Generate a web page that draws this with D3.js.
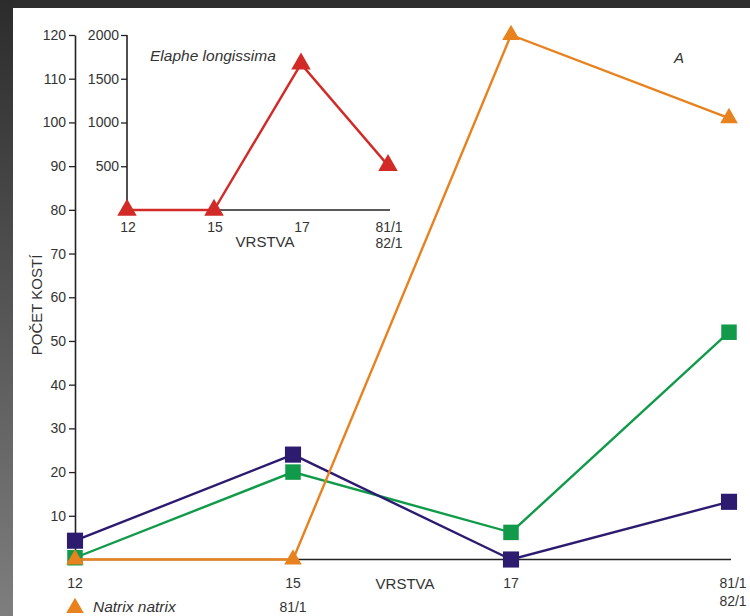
<!DOCTYPE html>
<html>
<head>
<meta charset="utf-8">
<script src="https://cdn.jsdelivr.net/npm/d3@7"></script>
<style>
  html, body { margin: 0; padding: 0; background: #2e2e2e; }
  svg { display: block; font-family: "Liberation Sans", Arial, sans-serif; }
</style>
</head>
<body>
<script>
// ---- data ----
const layers = ["12", "15", "17", "81/1"];
const layerSub = ["", "", "", "82/1"];
const natrixNatrix = [0, 0, 120, 101];
const seriesGreen = [0.4, 20, 6.2, 52];
const seriesNavy = [4.3, 24, 0, 13.2];
const elapheLongissima = [0, 0, 1670, 510];
const mainTicks = [10, 20, 30, 40, 50, 60, 70, 80, 90, 100, 110, 120];
const insetTicks = [500, 1000, 1500, 2000];

const W = 750, H = 616;
const svg = d3.select("body").append("svg").attr("width", W).attr("height", H);

// background frame
const defs = svg.append("defs");
const grad = defs.append("linearGradient").attr("id", "lg").attr("x1", 0).attr("y1", 0).attr("x2", 0).attr("y2", 1);
grad.append("stop").attr("offset", "0%").attr("stop-color", "#2c2c2c");
grad.append("stop").attr("offset", "100%").attr("stop-color", "#7e7e7e");
svg.append("rect").attr("width", W).attr("height", H).attr("fill", "#2e2e2e");
svg.append("rect").attr("x", 0).attr("y", 0).attr("width", 13).attr("height", H).attr("fill", "url(#lg)");
svg.append("rect").attr("x", 13).attr("y", 8).attr("width", W - 13).attr("height", H - 8).attr("fill", "#ffffff");

// ---- main chart ----
const x = d3.scalePoint().domain(layers).range([75, 729]);
const y = d3.scaleLinear().domain([0, 120]).range([559.5, 35]);

const yAxis = svg.append("g").attr("transform", "translate(75,0)")
  .call(d3.axisLeft(y).tickValues(mainTicks).tickSize(6).tickSizeOuter(0).tickPadding(3));
yAxis.select(".domain").attr("stroke", "#222").attr("stroke-width", 1.6);
yAxis.selectAll(".tick line").attr("stroke", "#222").attr("stroke-width", 1.3);
yAxis.selectAll("text").attr("font-size", 14).attr("fill", "#333");

// x axis line
svg.append("line").attr("x1", x(layers[0])).attr("x2", 731).attr("y1", y(0)).attr("y2", y(0))
  .attr("stroke", "#222").attr("stroke-width", 1.6);

// x tick labels
svg.append("g").selectAll("text").data(layers).join("text")
  .attr("x", d => d === "81/1" ? 733 : x(d)).attr("y", 588)
  .attr("text-anchor", "middle").attr("font-size", 14).attr("fill", "#333").text(d => d);
svg.append("g").selectAll("text").data(layerSub.filter(d => d)).join("text")
  .attr("x", 733).attr("y", 606)
  .attr("text-anchor", "middle").attr("font-size", 14).attr("fill", "#333").text(d => d);
svg.append("text").attr("x", 405).attr("y", 589).attr("text-anchor", "middle")
  .attr("font-size", 15).attr("fill", "#333").text("VRSTVA");

svg.append("text").attr("transform", "translate(42,305) rotate(-90)").attr("text-anchor", "middle")
  .attr("font-size", 15).attr("fill", "#333").text("POČET KOSTÍ");

svg.append("text").attr("x", 679).attr("y", 63).attr("text-anchor", "middle")
  .attr("font-size", 15).attr("font-style", "italic").attr("fill", "#333").text("A");

const line = d3.line().x((d, i) => x(layers[i])).y(d => y(d));

function drawSeries(vals, color, symbol, size) {
  svg.append("path").datum(vals).attr("d", line).attr("fill", "none")
    .attr("stroke", color).attr("stroke-width", 2.4);
  svg.append("g").selectAll("path").data(vals).join("path")
    .attr("transform", (d, i) => `translate(${x(layers[i])},${y(d)})`)
    .attr("d", d3.symbol().type(symbol).size(size)).attr("fill", color);
}
drawSeries(seriesGreen, "#119a4a", d3.symbolSquare, 240);
drawSeries(seriesNavy, "#2c1b6f", d3.symbolSquare, 260);
drawSeries(natrixNatrix, "#e8821f", d3.symbolTriangle, 135);

// legend (bottom, cut)
svg.append("path").attr("transform", `translate(${x(layers[0])},608)`)
  .attr("d", d3.symbol().type(d3.symbolTriangle).size(135)).attr("fill", "#e8821f");
svg.append("text").attr("x", 93).attr("y", 612).attr("font-size", 15.5).attr("font-style", "italic")
  .attr("fill", "#333").text("Natrix natrix");
svg.append("text").attr("x", x(layers[1])).attr("y", 612).attr("text-anchor", "middle")
  .attr("font-size", 14).attr("fill", "#333").text("81/1");

// ---- inset chart ----
const xi = d3.scalePoint().domain(layers).range([127, 388]);
const yi = d3.scaleLinear().domain([0, 2000]).range([210, 35]);

const yiAxis = svg.append("g").attr("transform", "translate(127,0)")
  .call(d3.axisLeft(yi).tickValues(insetTicks).tickFormat(d3.format("d"))
    .tickSize(6).tickSizeOuter(0).tickPadding(2));
yiAxis.select(".domain").attr("stroke", "#222").attr("stroke-width", 1.6)
  .attr("d", `M0,${yi(2000)}V${yi(0)}`);
yiAxis.selectAll(".tick line").attr("stroke", "#222").attr("stroke-width", 1.3);
yiAxis.selectAll("text").attr("font-size", 14).attr("fill", "#333");

svg.append("line").attr("x1", 127).attr("x2", 390).attr("y1", yi(0)).attr("y2", yi(0))
  .attr("stroke", "#222").attr("stroke-width", 1.6);

svg.append("g").selectAll("text").data(layers).join("text")
  .attr("x", d => xi(d) + 1).attr("y", 232)
  .attr("text-anchor", "middle").attr("font-size", 14).attr("fill", "#333").text(d => d);
svg.append("g").selectAll("text").data(layerSub.filter(d => d)).join("text")
  .attr("x", xi(layers[3]) + 1).attr("y", 248)
  .attr("text-anchor", "middle").attr("font-size", 14).attr("fill", "#333").text(d => d);
svg.append("text").attr("x", 265).attr("y", 247).attr("text-anchor", "middle")
  .attr("font-size", 15).attr("fill", "#333").text("VRSTVA");
svg.append("text").attr("x", 150).attr("y", 61).attr("font-size", 15.5).attr("font-style", "italic")
  .attr("fill", "#333").text("Elaphe longissima");

const linei = d3.line().x((d, i) => xi(layers[i])).y(d => yi(d));
svg.append("path").datum(elapheLongissima).attr("d", linei).attr("fill", "none")
  .attr("stroke", "#d22a26").attr("stroke-width", 2.4);
svg.append("g").selectAll("path").data(elapheLongissima).join("path")
  .attr("transform", (d, i) => `translate(${xi(layers[i])},${yi(d)})`)
  .attr("d", d3.symbol().type(d3.symbolTriangle).size(165)).attr("fill", "#d22a26");
</script>
</body>
</html>
